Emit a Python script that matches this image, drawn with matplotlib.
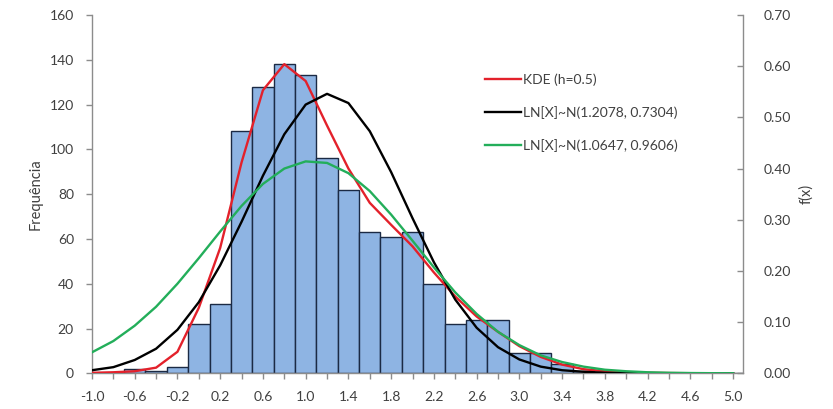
import matplotlib
matplotlib.use("Agg")
import matplotlib.pyplot as plt
from matplotlib.ticker import FixedLocator, FixedFormatter

# Histogram bins (centres, width 0.2) and counts
bin_centres = [-1.0, -0.8, -0.6, -0.4, -0.2, 0.0, 0.2, 0.4, 0.6, 0.8, 1.0,
               1.2, 1.4, 1.6, 1.8, 2.0, 2.2, 2.4, 2.6, 2.8, 3.0, 3.2, 3.4,
               3.6, 3.8, 4.0, 4.2, 4.4, 4.6, 4.8, 5.0]
counts = [0, 0, 2, 1, 3, 22, 31, 108, 128, 138, 133,
          96, 82, 63, 61, 63, 40, 22, 24, 24, 9, 9, 4,
          1, 0, 0, 0, 0, 0, 0, 0]

# Density curves evaluated on the same grid
x_grid = bin_centres
kde = [0.001, 0.002, 0.004, 0.011, 0.042, 0.128, 0.245, 0.412, 0.553, 0.604, 0.571,
       0.484, 0.400, 0.333, 0.290, 0.248, 0.197, 0.150, 0.111, 0.081, 0.053, 0.032,
       0.017, 0.008, 0.004, 0.002, 0.001, 0.0005, 0.0002, 0.0001, 0.0]
fit_1 = [0.006, 0.012, 0.026, 0.048, 0.085, 0.139, 0.211, 0.296, 0.386, 0.467, 0.525,
         0.546, 0.528, 0.473, 0.393, 0.303, 0.217, 0.144, 0.089, 0.051, 0.027, 0.013,
         0.006, 0.003, 0.001, 0.0004, 0.0001, 0.0, 0.0, 0.0, 0.0]
fit_2 = [0.041, 0.063, 0.093, 0.130, 0.175, 0.225, 0.277, 0.327, 0.370, 0.400, 0.414,
         0.411, 0.391, 0.356, 0.310, 0.259, 0.207, 0.158, 0.116, 0.081, 0.055, 0.035,
         0.022, 0.013, 0.007, 0.004, 0.002, 0.001, 0.0005, 0.0002, 0.0001]

labels = ["KDE (h=0.5)", "LN[X]~N(1.2078, 0.7304)", "LN[X]~N(1.0647, 0.9606)"]
colors = ["#E3212B", "#000000", "#23AE5A"]

x_ticks = [round(-1.0 + 0.2 * i, 1) for i in range(31)]
x_ticklabels = [f"{v:.1f}" if i % 2 == 0 else "" for i, v in enumerate(x_ticks)]

plt.rcParams["font.family"] = ["Lato", "DejaVu Sans"]
text_col = "#404040"
axis_col = "#8C8C8C"

fig = plt.figure(figsize=(8.33, 4.09), dpi=100)
ax = fig.add_axes([0.1104, 0.0873, 0.7812, 0.876])

ax.bar(bin_centres, counts, width=0.2, color="#8EB4E3", edgecolor="#1B2A44",
       linewidth=1.0, zorder=2)
ax.set_xlim(-1.0, 5.09)
ax.set_ylim(0, 160)
ax.set_yticks(range(0, 161, 20))
ax.xaxis.set_major_locator(FixedLocator(x_ticks))
ax.xaxis.set_major_formatter(FixedFormatter(x_ticklabels))
ax.set_ylabel("Frequência", fontsize=10.5, color=text_col, labelpad=5)

ax2 = ax.twinx()
for y, lab, c in zip([kde, fit_1, fit_2], labels, colors):
    ax2.plot(x_grid, y, color=c, linewidth=1.7, label=lab, solid_joinstyle="round")
ax2.set_ylim(0, 0.70)
ax2.set_yticks([i / 10 for i in range(8)])
ax2.set_yticklabels([f"{i / 10:.2f}" for i in range(8)])
ax2.set_ylabel("f(x)", fontsize=10.5, color=text_col, labelpad=6)

for a in (ax, ax2):
    for s in a.spines.values():
        s.set_color(axis_col)
        s.set_linewidth(1.0)
    a.spines["top"].set_visible(False)
ax.spines["right"].set_visible(False)
ax2.spines["left"].set_visible(False)
ax2.spines["bottom"].set_visible(False)

ax.tick_params(axis="x", direction="out", length=4, width=1, color=axis_col,
               labelsize=10, labelcolor=text_col, pad=9)
ax.tick_params(axis="y", direction="out", length=4, width=1, color=axis_col,
               labelsize=10, labelcolor=text_col, pad=9)
ax2.tick_params(axis="y", direction="in", length=4, width=1, color=axis_col,
                labelsize=10, labelcolor=text_col, pad=15)

leg = ax2.legend(loc="upper left", bbox_to_anchor=(0.604, 0.838), frameon=False,
                 fontsize=10, handlelength=2.6, handletextpad=0.15,
                 labelspacing=1.45, borderaxespad=0, borderpad=0)
for t in leg.get_texts():
    t.set_color(text_col)

fig.savefig("out.png", dpi=100)
